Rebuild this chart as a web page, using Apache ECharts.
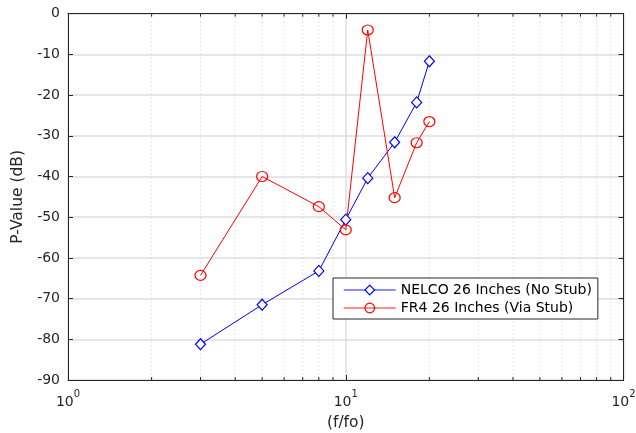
<!DOCTYPE html>
<html>
<head>
<meta charset="utf-8">
<script src="https://cdn.jsdelivr.net/npm/echarts@6/dist/echarts.min.js"></script>
<style>
  html, body { margin: 0; padding: 0; background: #fff; }
  #chart { width: 636px; height: 433px; }
</style>
</head>
<body>
<div id="chart"></div>
<script>
// Normalised frequency (f/fo) sample points
const freqRatio = [3, 5, 8, 10, 12, 15, 18, 20];
// P-Value in dB for each board
const nelcoNoStub = [-81.2, -71.5, -63.2, -50.6, -40.4, -31.6, -21.8, -11.7];
const fr4ViaStub = [-64.3, -40.0, -47.4, -53.1, -4.0, -45.2, -31.7, -26.5];

const seriesNames = ['NELCO 26 Inches (No Stub)', 'FR4 26 Inches (Via Stub)'];
const yTicks = { min: -90, max: 0, step: 10 };
const xRange = { min: 1, max: 100 };

// minor log grid positions (2..9 within each decade)
const minorX = [];
for (let d = xRange.min; d < xRange.max; d *= 10) {
  for (let k = 2; k <= 9; k++) minorX.push(k * d);
}

const FONT = '"DejaVu Sans", Verdana, sans-serif';
const AXIS_COLOR = '#262626';

const chart = echarts.init(document.getElementById('chart'), null, { renderer: 'canvas' });

function pairs(xs, ys) { return xs.map((x, i) => [x, ys[i]]); }

const option = {
  animation: false,
  backgroundColor: '#fff',
  textStyle: { fontFamily: FONT },
  grid: { left: 68, right: 12.5, top: 13.7, bottom: 53, containLabel: false, outerBoundsMode: 'none' },
  legend: {
    orient: 'vertical',
    left: 333,
    top: 278,
    backgroundColor: '#fff',
    borderColor: AXIS_COLOR,
    borderWidth: 1,
    borderRadius: 0,
    padding: [5, 6, 4, 10],
    itemWidth: 52,
    itemHeight: 12,
    itemGap: 4,
    lineStyle: { width: 1.5, opacity: 0.6 },
    itemStyle: { borderWidth: 1.2 },
    textStyle: { fontSize: 14, color: '#000', fontFamily: FONT, lineHeight: 14 },
    data: seriesNames,
    z: 10
  },
  xAxis: [
    {
      type: 'log',
      logBase: 10,
      min: xRange.min,
      max: xRange.max,
      name: '(f/fo)',
      nameLocation: 'middle',
      nameGap: 35,
      nameTextStyle: { fontSize: 15.5, color: AXIS_COLOR, fontFamily: FONT },
      axisLine: { show: true, onZero: false, lineStyle: { color: AXIS_COLOR, width: 1 } },
      axisTick: { show: true, inside: true, length: 5, lineStyle: { color: AXIS_COLOR } },
      splitLine: { show: true, lineStyle: { color: '#dedede', width: 1.5 } },
      minorTick: { show: false },
      axisLabel: {
        margin: 9,
        color: AXIS_COLOR,
        formatter: function (v) {
          const e = Math.round(Math.log10(v));
          return '{b|10}{s|' + e + '}';
        },
        rich: {
          b: { fontSize: 14, color: AXIS_COLOR, fontFamily: FONT, verticalAlign: 'bottom', padding: [6, 0, 0, 0] },
          s: { fontSize: 10, color: AXIS_COLOR, fontFamily: FONT, verticalAlign: 'top', padding: [0, 0, 8, 0] }
        }
      }
    },
    {
      type: 'log',
      logBase: 10,
      min: xRange.min,
      max: xRange.max,
      position: 'top',
      axisLine: { show: true, onZero: false, lineStyle: { color: AXIS_COLOR, width: 1 } },
      axisTick: { show: true, inside: true, length: 5, lineStyle: { color: AXIS_COLOR } },
      axisLabel: { show: false },
      splitLine: { show: false }
    }
  ],
  yAxis: [
    {
      type: 'value',
      min: yTicks.min,
      max: yTicks.max,
      interval: yTicks.step,
      name: 'P-Value (dB)',
      nameLocation: 'middle',
      nameGap: 40,
      nameTextStyle: { fontSize: 15.5, color: AXIS_COLOR, fontFamily: FONT },
      axisLine: { show: true, onZero: false, lineStyle: { color: AXIS_COLOR, width: 1 } },
      axisTick: { show: true, inside: true, length: 5, lineStyle: { color: AXIS_COLOR } },
      splitLine: { show: true, lineStyle: { color: '#dedede', width: 1.5 } },
      axisLabel: { fontSize: 14, color: AXIS_COLOR, margin: 8, fontFamily: FONT }
    },
    {
      type: 'value',
      min: yTicks.min,
      max: yTicks.max,
      interval: yTicks.step,
      position: 'right',
      axisLine: { show: true, onZero: false, lineStyle: { color: AXIS_COLOR, width: 1 } },
      axisTick: { show: true, inside: true, length: 5, lineStyle: { color: AXIS_COLOR } },
      axisLabel: { show: false },
      splitLine: { show: false }
    }
  ],
  series: [
    {
      // dotted minor grid lines and minor ticks on the log axis
      type: 'custom',
      silent: true,
      z: 1,
      xAxisIndex: 0,
      yAxisIndex: 0,
      data: minorX.map(v => [v, yTicks.min]),
      renderItem: function (params, api) {
        const x = api.value(0);
        const top = api.coord([x, yTicks.max]);
        const bot = api.coord([x, yTicks.min]);
        return {
          type: 'group',
          children: [
            {
              type: 'line',
              shape: { x1: top[0], y1: top[1], x2: bot[0], y2: bot[1] },
              style: { stroke: '#cfcfcf', lineWidth: 1, lineDash: [1, 3] }
            },
            {
              type: 'line',
              shape: { x1: bot[0], y1: bot[1], x2: bot[0], y2: bot[1] - 3 },
              style: { stroke: AXIS_COLOR, lineWidth: 1 }
            },
            {
              type: 'line',
              shape: { x1: top[0], y1: top[1], x2: top[0], y2: top[1] + 3 },
              style: { stroke: AXIS_COLOR, lineWidth: 1 }
            }
          ]
        };
      }
    },
    {
      name: seriesNames[0],
      type: 'line',
      z: 3,
      data: pairs(freqRatio, nelcoNoStub),
      symbol: 'diamond',
      symbolSize: [10, 11],
      showAllSymbol: true,
      color: '#0000ff',
      lineStyle: { color: '#0000ff', width: 1 },
      itemStyle: { color: '#fff', borderColor: '#0000ff', borderWidth: 1.2 }
    },
    {
      name: seriesNames[1],
      type: 'line',
      z: 3,
      data: pairs(freqRatio, fr4ViaStub),
      symbol: 'circle',
      symbolSize: [11, 10],
      showAllSymbol: true,
      color: '#ff0000',
      lineStyle: { color: '#ff0000', width: 1 },
      itemStyle: { color: 'rgba(255,255,255,0)', borderColor: '#ff0000', borderWidth: 1.2 }
    }
  ]
};

chart.setOption(option);
</script>
</body>
</html>
